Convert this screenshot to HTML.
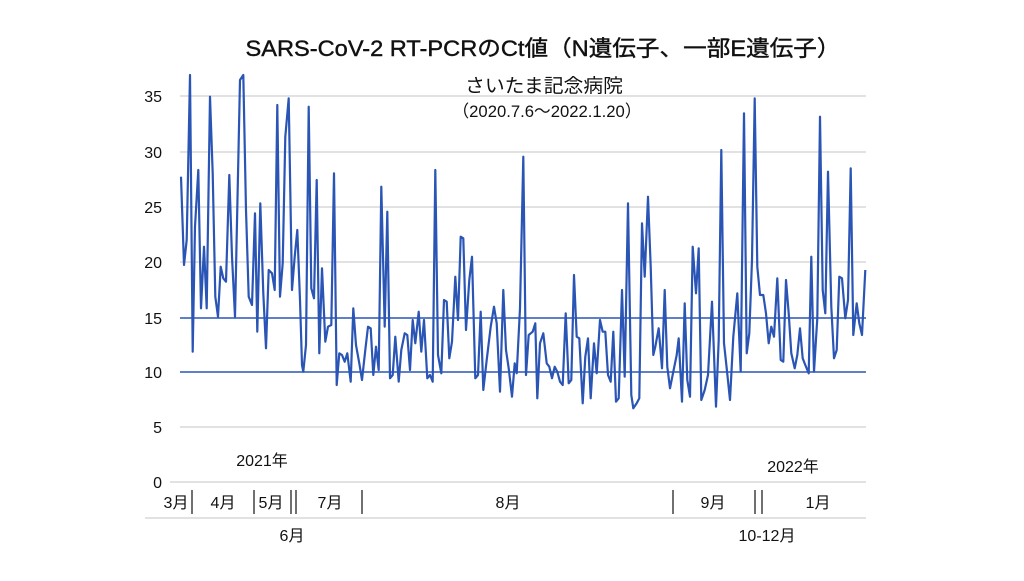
<!DOCTYPE html>
<html><head><meta charset="utf-8"><style>
body{margin:0;background:#fff;}
svg text{font-family:"Liberation Sans","Noto Sans CJK JP",sans-serif;fill:#111;}
</style></head><body>
<svg id="s" width="1024" height="576" viewBox="0 0 1024 576" xmlns="http://www.w3.org/2000/svg">
<rect width="1024" height="576" fill="#fff"/>
<text x="543" y="56" font-size="22" text-anchor="middle" textLength="595" lengthAdjust="spacingAndGlyphs" stroke="#111" stroke-width="0.4">SARS-CoV-2 RT-PCRのCt値（N遺伝子、一部E遺伝子）</text>
<g stroke="#d8d8d8" stroke-width="1.5">
<line x1="180" y1="96" x2="866" y2="96"/><line x1="180" y1="152" x2="866" y2="152"/>
<line x1="180" y1="207" x2="866" y2="207"/><line x1="180" y1="262" x2="866" y2="262"/>
<line x1="180" y1="427" x2="866" y2="427"/><line x1="170" y1="482" x2="866" y2="482"/>
<line x1="145" y1="518" x2="866" y2="518"/>
</g>
<g font-size="16" text-anchor="end">
<text x="162" y="102">35</text><text x="162" y="158">30</text><text x="162" y="213">25</text>
<text x="162" y="268">20</text><text x="162" y="324">15</text><text x="162" y="378">10</text>
<text x="162" y="433">5</text><text x="162" y="488">0</text>
</g>
<polyline id="p" fill="none" stroke="#2a55b5" stroke-width="2.2" stroke-linejoin="round"/>
<line x1="180" y1="318" x2="866" y2="318" stroke="#2a55b5" stroke-width="1.5"/>
<line x1="180" y1="372" x2="866" y2="372" stroke="#2a55b5" stroke-width="1.5"/>
<text x="544" y="92" font-size="19" text-anchor="middle" textLength="158" lengthAdjust="spacingAndGlyphs">さいたま記念病院</text>
<text x="547" y="117" font-size="17" text-anchor="middle" textLength="189" lengthAdjust="spacingAndGlyphs">（2020.7.6～2022.1.20）</text>
<g stroke="#222" stroke-width="1.3">
<line x1="192" y1="490" x2="192" y2="514"/><line x1="254" y1="490" x2="254" y2="514"/>
<line x1="291" y1="490" x2="291" y2="514"/><line x1="296" y1="490" x2="296" y2="514"/>
<line x1="362" y1="490" x2="362" y2="514"/><line x1="673" y1="490" x2="673" y2="514"/>
<line x1="755" y1="490" x2="755" y2="514"/><line x1="762" y1="490" x2="762" y2="514"/>
</g>
<g font-size="16" text-anchor="middle">
<text x="176" y="508">3月</text><text x="223" y="508">4月</text><text x="271" y="508">5月</text>
<text x="330" y="508">7月</text><text x="508" y="508">8月</text><text x="713" y="508">9月</text>
<text x="818" y="508">1月</text>
<text x="262" y="466">2021年</text><text x="793" y="472">2022年</text>
<text x="292" y="541">6月</text><text x="767" y="541">10-12月</text>
</g>
</svg>
<script>
var a=[[123,350],[132,615],[140,540],[150,45],[158,875],[165,500],[175,330],[183,745],[192,560],[200,745],[210,110],[218,340],[226,710],[234,770],[242,620],[250,655],[258,665],[268,345],[276,590],[285,770],[300,60],[310,45],[318,450],[326,710],[336,735],[345,460],[352,815],[361,430],[370,700],[378,865],[386,630],[396,640],[404,690],[412,135],[420,710],[428,610],[436,230],[446,115],[456,690],[464,590],[472,510],[480,720],[486,915],[490,935],[498,855],[506,140],[514,685],[522,715],[530,360],[538,880],[546,625],[556,845],[564,800],[574,795],[582,340],[590,975],[598,880],[606,885],[614,905],[622,880],[632,965],[640,745],[648,855],[658,910],[666,960],[676,870],[684,800],[692,805],[700,945],[708,860],[716,930],[724,380],[734,800],[742,455],[750,955],[758,945],[766,830],[776,965],[784,870],[794,820],[802,825],[810,930],[818,780],[826,850],[836,755],[844,875],[852,780],[862,955],[870,945],[878,965],[886,330],[894,885],[904,940],[912,720],[920,725],[928,895],[936,845],[946,650],[954,780],[962,530],[970,535],[978,810],[988,660],[996,590],[1006,955],[1014,945],[1022,755],[1030,990],[1040,900],[1052,800],[1062,740],[1070,790],[1080,995],[1090,690],[1098,870],[1106,925],[1116,1010],[1124,910],[1130,940],[1140,745],[1150,290],[1158,945],[1166,825],[1178,815],[1186,790],[1192,1015]];
var b=[[210,850],[220,820],[230,910],[238,920],[246,955],[254,920],[262,935],[270,965],[278,975],[287,760],[296,970],[304,960],[312,645],[320,830],[328,835],[338,1030],[346,890],[354,835],[362,1015],[372,850],[380,940],[390,780],[398,815],[406,815],[414,945],[422,965],[430,815],[438,1025],[446,1015],[456,690],[464,950],[474,430],[484,1005],[490,1045],[500,1030],[508,1015],[516,490],[524,650],[534,410],[542,620],[550,885],[556,860],[566,805],[576,925],[584,690],[592,920],[600,985],[610,935],[620,885],[626,835],[636,1025],[644,730],[652,960],[660,1010],[668,560],[678,700],[686,565],[694,1020],[704,990],[714,945],[726,725],[738,1040],[746,840],[754,270],[762,850],[770,925],[780,1020],[790,830],[802,700],[812,935],[822,160],[830,880],[838,820],[846,600],[854,115],[862,620],[870,705],[880,705],[888,760],[896,850],[904,800],[912,830],[922,655],[932,900],[940,905],[948,660],[956,760],[964,880],[974,925],[982,885],[990,805],[998,895],[1006,915],[1016,940],[1024,590],[1032,935],[1042,775],[1050,170],[1058,690],[1066,760],[1074,335],[1084,740],[1092,895],[1100,870],[1108,650],[1116,655],[1126,775],[1134,720],[1142,325],[1150,825],[1160,730],[1168,790],[1176,825],[1186,630]];
var pts=[];
a.forEach(function(p){pts.push((140+p[0]/3).toFixed(1)+","+(60+p[1]/3).toFixed(1));});
b.forEach(function(p){pts.push((470+p[0]/3).toFixed(1)+","+(60+p[1]/3).toFixed(1));});
document.getElementById("p").setAttribute("points",pts.join(" "));
</script>
</body></html>
